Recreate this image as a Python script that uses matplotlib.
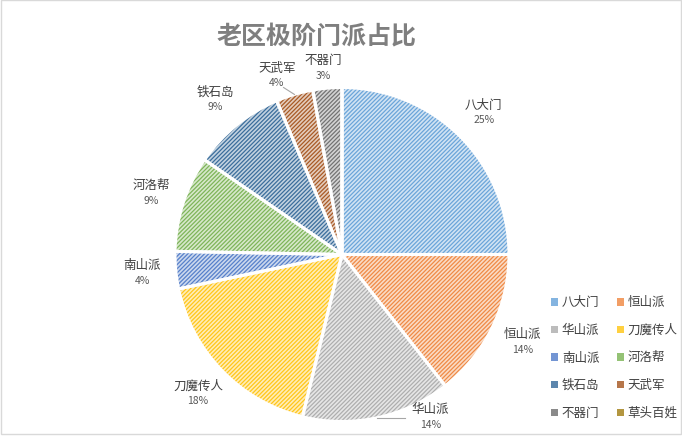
import matplotlib
matplotlib.use("Agg")
import matplotlib.pyplot as plt
from matplotlib.patches import Patch, Rectangle
import matplotlib.colors as mcolors
import numpy as np

plt.rcParams['font.family'] = ['Noto Sans CJK SC', 'DejaVu Sans']
plt.rcParams['hatch.linewidth'] = 0.9

# ---- data ----
categories = ['八大门', '恒山派', '华山派', '刀魔传人', '南山派', '河洛帮', '铁石岛', '天武军', '不器门', '草头百姓']
values = [25.0, 14.4, 14.4, 17.9, 3.6, 9.3, 9.0, 3.6, 2.8, 0.0]
colors = ['#5B9BD5', '#ED7D31', '#A5A5A5', '#FFC000', '#4472C4', '#70AD47',
          '#255E91', '#9E480E', '#636363', '#997300']
title = '老区极阶门派占比'

# ---- layout ----
W, H = 682, 436
cx, cy, R = 342, 254.5, 167
lim = 1.3
fig = plt.figure(figsize=(W / 100, H / 100), dpi=100)
side = 2 * lim * R
ax = fig.add_axes([(cx - side / 2) / W, (H - cy - side / 2) / H, side / W, side / H])
ax.axis('off')


def tint(c, f):
    r = np.array(mcolors.to_rgb(c))
    return tuple(r + (1 - r) * f)


light = [tint(c, 0.72) for c in colors]
hatchc = [tint(c, 0.1) for c in colors]
wedges, _ = ax.pie(values, colors=light, startangle=90, counterclock=False, radius=1,
                   wedgeprops=dict(linewidth=0, hatch='////////'))
for w, c in zip(wedges, hatchc):
    w.set_edgecolor(c)
    w.set_linewidth(0)
# white separators
ax.pie(values, startangle=90, counterclock=False, radius=1,
       wedgeprops=dict(fill=False, edgecolor='white', linewidth=2.2))
ax.set_xlim(-lim, lim)
ax.set_ylim(-lim, lim)
ax.set_aspect('equal')

total = sum(values)
label_r = 1.2
overrides = {'华山派': (0.53, -0.975), '天武军': (-0.39, 1.07), '不器门': (-0.11, 1.115)}
for w, name, v in zip(wedges, categories, values):
    if v <= 0:
        continue
    mid = np.deg2rad((w.theta1 + w.theta2) / 2)
    if name in overrides:
        x, y = overrides[name]
        ex, ey = np.cos(mid), np.sin(mid)
        if name == '华山派':
            ax.plot([ex, x - 0.15], [ey, ey], color='#a6a6a6', lw=0.8)
        elif name == '天武军':
            ax.plot([ex, x + 0.04], [ey, y - 0.07], color='#a6a6a6', lw=0.8)
    else:
        x, y = label_r * np.cos(mid), label_r * np.sin(mid)
    pct = int(round(v / total * 100))
    ax.text(x, y + 0.045, name, ha='center', va='center', fontsize=9, color='#404040')
    ax.text(x, y - 0.045, f'{pct}%', ha='center', va='center', fontsize=7.5, color='#595959')

fig.text(317 / W, 1 - 37 / H, title, ha='center', va='center', fontsize=18,
         fontweight='bold', color='#7f7f7f')

handles = [Patch(facecolor=tint(c, 0.25), edgecolor='none') for c in colors]
order = [0, 2, 4, 6, 8, 1, 3, 5, 7, 9]
fig.legend([handles[i] for i in order], [categories[i] for i in order], ncol=2,
           loc='upper left', bbox_to_anchor=(545 / W, 1 - 290 / H), frameon=False,
           fontsize=9, handlelength=0.55, handleheight=0.55, handletextpad=0.3,
           labelspacing=1.17, columnspacing=1.4, borderpad=0, labelcolor='#404040')

fig.patches.append(Rectangle((0.5 / W, 2 / H), 1 - 1.5 / W, 1 - 2.5 / H, transform=fig.transFigure,
                             fill=False, edgecolor='#d9d9d9', linewidth=1))

fig.savefig('out.png', dpi=100)
